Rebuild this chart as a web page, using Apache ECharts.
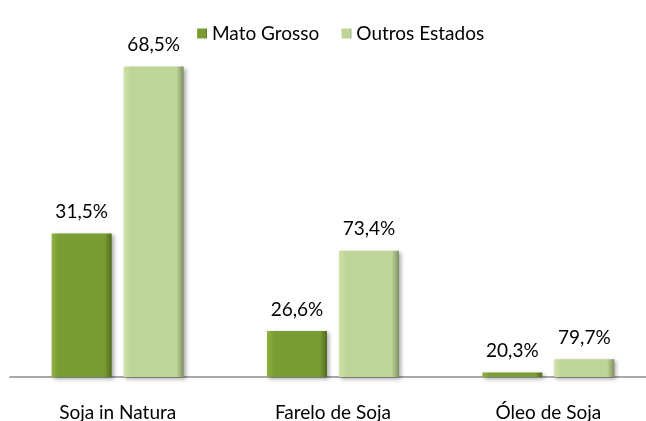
<!DOCTYPE html>
<html>
<head>
    <meta charset="utf-8">
    <title>Soja - Mato Grosso x Outros Estados</title>
    <script src="https://cdn.jsdelivr.net/npm/echarts@6/dist/echarts.min.js"></script>
    <style>
        html, body { margin: 0; padding: 0; background: #fff; }
        #main { width: 646px; height: 421px; }
    </style>
</head>
<body>
<div id="main"></div>
<script>
var categories = ['Soja in Natura', 'Farelo de Soja', 'Óleo de Soja'];
var mtValues = [9.2, 2.95, 0.29];
var outrosValues = [19.9, 8.1, 1.13];
// participação exibida nos rótulos
var mtShare = ['31,5%', '26,6%', '20,3%'];
var outrosShare = ['68,5%', '73,4%', '79,7%'];

var FONT = 'Lato';

function grad(edge, mid, dark) {
    return new echarts.graphic.LinearGradient(0, 0, 1, 0, [
        { offset: 0, color: edge },
        { offset: 0.12, color: mid },
        { offset: 0.88, color: mid },
        { offset: 1, color: dark }
    ]);
}

var chart = echarts.init(document.getElementById('main'));

var option = {
    animation: false,
    textStyle: { fontFamily: FONT },
    legend: {
        left: 192,
        top: 19,
        itemWidth: 10,
        itemHeight: 10,
        itemGap: 22,
        icon: 'rect',
        textStyle: { fontFamily: FONT, fontSize: 19, color: '#000' },
        data: ['Mato Grosso', 'Outros Estados']
    },
    grid: {
        left: 10,
        width: 646,
        top: 65,
        bottom: 44,
        outerBoundsMode: 'none'
    },
    xAxis: {
        type: 'category',
        data: categories,
        axisTick: { show: false },
        axisLine: { lineStyle: { color: '#8c8c8c', width: 1.5 } },
        axisLabel: { fontFamily: FONT, fontSize: 19, color: '#000', margin: 26 }
    },
    yAxis: {
        type: 'value',
        min: 0,
        max: 20,
        show: false,
        splitLine: { show: false }
    },
    series: [{
        name: 'Mato Grosso',
        type: 'bar',
        barWidth: 60,
        barGap: '20%',
        data: mtValues,
        itemStyle: {
            color: grad('#8fb23f', '#7a9c34', '#4f6a1e'),
            shadowColor: 'rgba(0,0,0,0.35)',
            shadowBlur: 4,
            shadowOffsetX: 2,
            shadowOffsetY: 2
        },
        label: {
            show: true,
            position: 'top',
            distance: 12,
            fontFamily: FONT,
            fontSize: 19,
            color: '#000',
            formatter: function (p) { return mtShare[p.dataIndex]; }
        }
    }, {
        name: 'Outros Estados',
        type: 'bar',
        barWidth: 60,
        data: outrosValues,
        itemStyle: {
            color: grad('#cfe2a8', '#bdd597', '#7f9060'),
            shadowColor: 'rgba(0,0,0,0.35)',
            shadowBlur: 4,
            shadowOffsetX: 2,
            shadowOffsetY: 2
        },
        label: {
            show: true,
            position: 'top',
            distance: 12,
            fontFamily: FONT,
            fontSize: 19,
            color: '#000',
            formatter: function (p) { return outrosShare[p.dataIndex]; }
        }
    }]
};
chart.setOption(option);
</script>
</body>
</html>
